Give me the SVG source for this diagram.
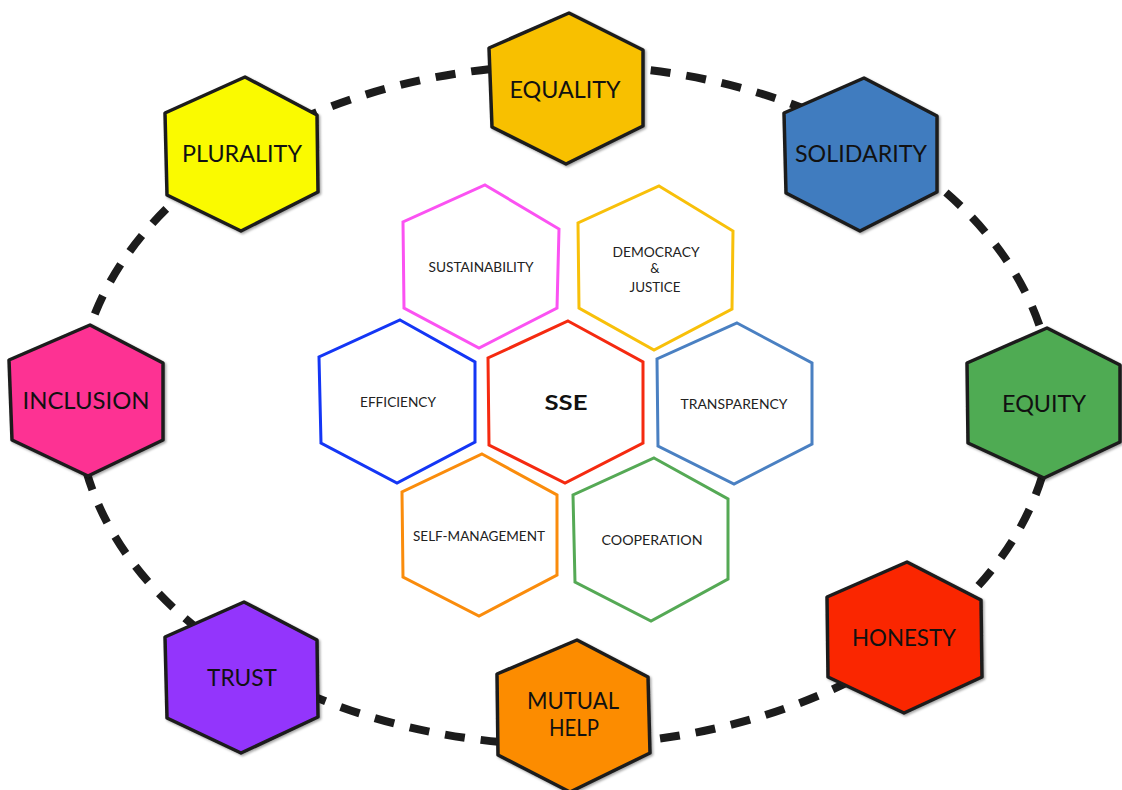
<svg xmlns="http://www.w3.org/2000/svg" width="1122" height="790" viewBox="0 0 1122 790">
<style>
.ring{fill:none;stroke:#1c1c1c;stroke-width:8;stroke-dasharray:20 16}
.outer{stroke:#1c1c1c;stroke-width:3.5;stroke-linejoin:round;filter:url(#sh)}
.inner{fill:#ffffff;stroke-width:3;stroke-linejoin:miter}
.big{font-family:Lato,"Open Sans","Liberation Sans",sans-serif;font-size:23px;fill:#111;text-anchor:middle}
.small{font-family:Lato,"Open Sans","Liberation Sans",sans-serif;font-size:13px;fill:#222;text-anchor:middle}
.sse{font-family:Lato,"Open Sans","Liberation Sans",sans-serif;font-size:21px;font-weight:bold;fill:#111;text-anchor:middle}
</style>
<defs>
<filter id="sh" x="-10%" y="-10%" width="130%" height="130%">
<feDropShadow dx="1.5" dy="1.5" stdDeviation="1.2" flood-color="#000" flood-opacity="0.35"/>
</filter>
</defs>
<rect width="1122" height="790" fill="#ffffff"/>
<g id="connectors">
<ellipse class="ring" cx="565" cy="405" rx="488" ry="340"/>
</g>
<g id="equality">
<polygon class="outer" fill="#F8C000" points="569,13 643,50 643,126 566,164 492,127 489,48"/>
<text class="big" x="565" y="98" textLength="111" lengthAdjust="spacingAndGlyphs">EQUALITY</text>
</g>
<g id="plurality">
<polygon class="outer" fill="#FAFA00" points="245,77 317,115 318,192 241,231 167,195 165,113"/>
<text class="big" x="242" y="162" textLength="120" lengthAdjust="spacingAndGlyphs">PLURALITY</text>
</g>
<g id="solidarity">
<polygon class="outer" fill="#407CBF" points="864,78 937,116 937,192 860,231 786,193 784,113"/>
<text class="big" x="861" y="162" textLength="132" lengthAdjust="spacingAndGlyphs">SOLIDARITY</text>
</g>
<g id="inclusion">
<polygon class="outer" fill="#FD3093" points="90,325 163,363 163,440 88,476 12,440 9,360"/>
<text class="big" x="86" y="409" textLength="127" lengthAdjust="spacingAndGlyphs">INCLUSION</text>
</g>
<g id="equity">
<polygon class="outer" fill="#50AB53" points="1047,328 1120,365 1120,442 1044,478 968,443 967,363"/>
<text class="big" x="1044" y="412" textLength="84" lengthAdjust="spacingAndGlyphs">EQUITY</text>
</g>
<g id="trust">
<polygon class="outer" fill="#9336FC" points="244,602 317,640 318,717 241,753 167,718 165,637"/>
<text class="big" x="242" y="686" textLength="70" lengthAdjust="spacingAndGlyphs">TRUST</text>
</g>
<g id="mutual-help">
<polygon class="outer" fill="#FC8C00" points="577,640 648,677 650,753 570,792 498,755 497,674"/>
<text class="big" x="573" y="709" textLength="92" lengthAdjust="spacingAndGlyphs">MUTUAL</text>
<text class="big" x="574" y="736" textLength="50" lengthAdjust="spacingAndGlyphs">HELP</text>
</g>
<g id="honesty">
<polygon class="outer" fill="#FA2500" points="907,562 981,600 982,677 904,713 828,677 827,597"/>
<text class="big" x="904" y="646" textLength="104" lengthAdjust="spacingAndGlyphs">HONESTY</text>
</g>
<g id="sustainability">
<polygon class="inner" stroke="#FB52F2" points="485,185 559,229 557,308 479,348 404,308 403,222"/>
<text class="small" x="481" y="272" textLength="105" lengthAdjust="spacingAndGlyphs">SUSTAINABILITY</text>
</g>
<g id="democracy-justice">
<polygon class="inner" stroke="#F8C00A" points="659,186 733,231 732,309 654,350 579,308 578,223"/>
<text class="small" x="656" y="257" textLength="87" lengthAdjust="spacingAndGlyphs">DEMOCRACY</text>
<text class="small" x="655" y="273">&amp;</text>
<text class="small" x="655" y="292" textLength="51" lengthAdjust="spacingAndGlyphs">JUSTICE</text>
</g>
<g id="efficiency">
<polygon class="inner" stroke="#1436F5" points="400,320 475,362 475,442 397,483 321,443 319,357"/>
<text class="small" x="398" y="407" textLength="76" lengthAdjust="spacingAndGlyphs">EFFICIENCY</text>
</g>
<g id="sse">
<polygon class="inner" stroke="#F52A10" points="568,321 643,362 643,443 565,483 489,445 488,358"/>
<text class="sse" x="566" y="410" textLength="43" lengthAdjust="spacingAndGlyphs">SSE</text>
</g>
<g id="transparency">
<polygon class="inner" stroke="#4A80C2" points="737,323 812,363 812,444 734,484 658,446 657,359"/>
<text class="small" x="734" y="409" textLength="107" lengthAdjust="spacingAndGlyphs">TRANSPARENCY</text>
</g>
<g id="self-management">
<polygon class="inner" stroke="#FA8C0C" points="482,454 557,495 557,575 479,616 403,577 402,492"/>
<text class="small" x="479" y="541" textLength="132" lengthAdjust="spacingAndGlyphs">SELF-MANAGEMENT</text>
</g>
<g id="cooperation">
<polygon class="inner" stroke="#55A955" points="654,458 728,499 728,579 651,621 575,582 573,495"/>
<text class="small" x="652" y="545" textLength="101" lengthAdjust="spacingAndGlyphs">COOPERATION</text>
</g>
</svg>
